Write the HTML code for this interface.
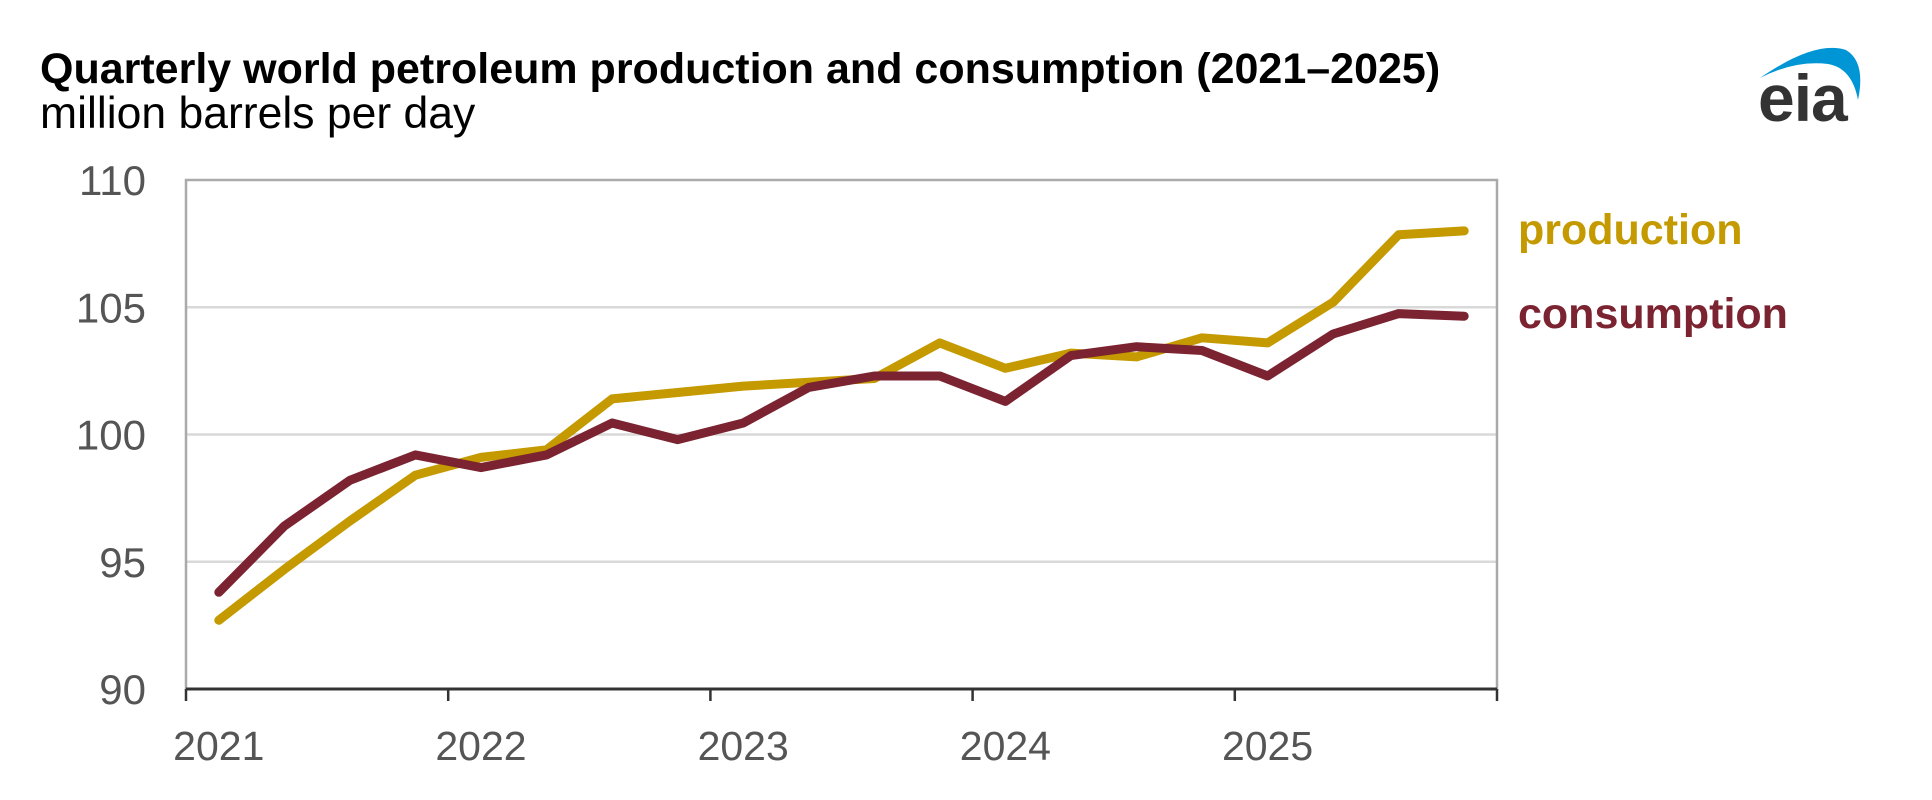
<!DOCTYPE html>
<html><head><meta charset="utf-8"><style>
html,body{margin:0;padding:0;background:#fff;}
svg{display:block;font-family:"Liberation Sans",Arial,sans-serif;}
</style></head><body>
<svg id="chart" width="1932" height="800">
<text x="40" y="83" font-size="43" font-weight="bold" fill="#000">Quarterly world petroleum production and consumption (2021–2025)</text>
<text x="40" y="128" font-size="44.5" fill="#000">million barrels per day</text>
<g>
<path d="M1760,78 Q1815,40 1846,50 Q1866,62 1858,100 Q1852,68 1828,64 Q1795,60 1760,78 Z" fill="#0096d6"/>
<text x="1758" y="121" font-size="66" font-weight="bold" fill="#333" letter-spacing="-1">eia</text>
</g>
<g id="grid"></g><g id="axes"></g><g id="lines"></g>
<text x="1518" y="244" font-size="43" font-weight="bold" fill="#c49a00">production</text>
<text x="1518" y="328" font-size="43" font-weight="bold" fill="#7b2330">consumption</text>
</svg>
<script>
const years=["2021","2022","2023","2024","2025"];
const yTicks=[90,95,100,105,110];
const production=[92.7,94.7,96.6,98.4,99.1,99.4,101.4,101.65,101.9,102.05,102.2,103.6,102.6,103.2,103.05,103.8,103.6,105.2,107.85,108.0];
const consumption=[93.8,96.4,98.2,99.2,98.7,99.2,100.45,99.8,100.45,101.85,102.3,102.3,101.3,103.1,103.45,103.3,102.3,103.95,104.75,104.65];
const L=186,R=1497,T=180,B=689,yMin=90,yMax=110,nYears=5;
const NS="http://www.w3.org/2000/svg";
const x=t=>L+(R-L)*t/nYears;
const y=v=>B-(B-T)*(v-yMin)/(yMax-yMin);
function mk(tag,attrs,parent){const e=document.createElementNS(NS,tag);for(const k in attrs)e.setAttribute(k,attrs[k]);document.getElementById(parent).appendChild(e);return e;}
yTicks.forEach(v=>{
  if(v>yMin&&v<yMax){const g=mk('line',{x1:L,x2:R,y1:y(v),y2:y(v),stroke:'#d9d9d9','stroke-width':2.5},'grid');
  
  }
  const t=mk('text',{x:L-40,y:y(v)+15,'text-anchor':'end','font-size':42,fill:'#555'},'axes');t.textContent=v;
  
  
});
const fr=mk('rect',{x:L,y:T,width:R-L,height:B-T,fill:'none',stroke:'#aaa','stroke-width':2.5},'axes');


const xa=mk('line',{x1:L,x2:R,y1:B,y2:B,stroke:'#333','stroke-width':3},'axes');


for(let i=0;i<=nYears;i++){const tk=mk('line',{x1:x(i),x2:x(i),y1:B,y2:B+12,stroke:'#333','stroke-width':2.5},'axes');
  
  }
years.forEach((yr,i)=>{const t=mk('text',{x:x(i+0.125),y:760,'text-anchor':'middle','font-size':41,fill:'#555'},'axes');t.textContent=yr;
  
  });
function line(data,color,name){
  const d=data.map((v,i)=>(i?'L':'M')+x((i+0.5)/4).toFixed(1)+','+y(v).toFixed(1)).join(' ');
  const p=mk('path',{d:d,fill:'none',stroke:color,'stroke-width':9,'stroke-linejoin':'round','stroke-linecap':'round'},'lines');
  
  
}
line(production,'#c49a00','production-line');
line(consumption,'#7b2330','consumption-line');
</script>
</body></html>
